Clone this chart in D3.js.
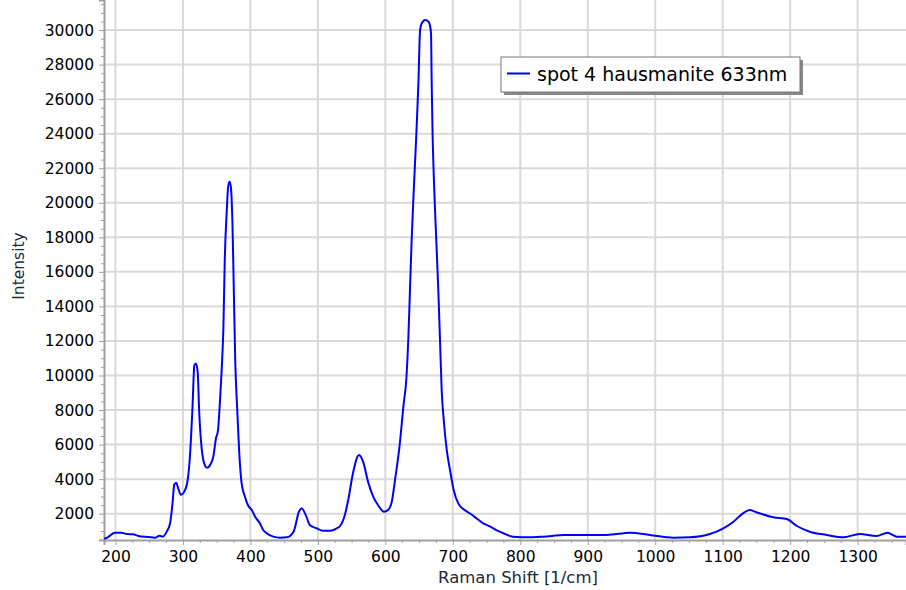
<!DOCTYPE html>
<html>
<head>
<meta charset="utf-8">
<script src="https://cdn.jsdelivr.net/npm/d3@7"></script>
<style>
  body { margin: 0; background: #fff; }
  svg { display: block; font-family: "DejaVu Sans", Verdana, sans-serif; }
</style>
</head>
<body>
<div id="chart"></div>
<script>
// spectrum
var ramanShift = [183, 186, 199, 209, 217, 226, 234, 249, 259, 265, 270, 276, 281, 285, 287, 290, 293, 297, 301, 306,
  310, 314, 317, 319.5, 322, 324, 328, 333, 336, 341, 345, 349, 352, 355, 357.5, 360, 362, 365, 367, 369,
  371, 373.5, 375.5, 377.5, 380.5, 383.5, 387, 392, 397, 402, 407, 414, 419, 424, 434, 444, 454, 464, 472, 476,
  483, 488, 498, 508, 518, 528, 533, 540, 545, 552, 561, 567, 575, 582, 589, 598, 604, 609, 615, 621,
  627, 631, 634, 636.5, 639, 641.5, 646, 649, 651.5, 654, 659, 664, 666, 667.7, 668.7, 670, 672, 675, 678.5,
  681, 683.5, 687, 691, 696, 701, 708, 718, 725, 735, 745, 755, 767, 775, 789, 814, 834, 866, 928, 963,
  992, 1027, 1051, 1081, 1101, 1116, 1130, 1140, 1150, 1175, 1195, 1210, 1229, 1254, 1279, 1303, 1328, 1344, 1358, 1372];
var intensity = [560, 576, 900, 900, 825, 807, 710, 650, 610, 727, 670, 960, 1444, 2793, 3660, 3795, 3470, 3100, 3216, 3720,
  5109, 8000, 10600, 10700, 10130, 8000, 5690, 4760, 4660, 4877, 5300, 6365, 6845, 8580, 10400, 12826, 16690, 19580, 20930, 21220,
  20930, 18615, 14760, 10900, 8000, 5500, 3760, 2985, 2445, 2214, 1826, 1444, 1056, 865, 670, 610, 634, 958, 2116, 2312,
  1826, 1346, 1155, 1016, 1016, 1155, 1288, 1925, 2793, 4340, 5400, 5010, 3760, 2985, 2504, 2116, 2214, 2600, 4142, 5900,
  8300, 9740, 12055, 14950, 17845, 20200, 24020, 26915, 30000, 30390, 30580, 30480, 30290, 29810, 26915, 24020, 21300, 18300, 14950,
  12055, 9160, 7230, 5690, 4500, 3420, 2600, 2200, 2023, 1734, 1444, 1270, 1000, 865, 670, 634, 670, 767, 767, 900,
  767, 610, 634, 825, 1155, 1537, 2023, 2214, 2081, 1790, 1693, 1288, 958, 767, 634, 825, 710, 900, 670, 670];

var seriesName = "spot 4 hausmanite 633nm";
var xTicks = [200, 300, 400, 500, 600, 700, 800, 900, 1000, 1100, 1200, 1300];
var yTicks = [2000, 4000, 6000, 8000, 10000, 12000, 14000, 16000, 18000, 20000, 22000, 24000, 26000, 28000, 30000];

var width = 906, height = 590;
var margin = {top: 0, right: 0, bottom: 50, left: 104};
var plotW = width - margin.left - margin.right;
var plotH = height - margin.top - margin.bottom;

var data = ramanShift.map(function(d, i) { return {x: d, y: intensity[i]}; });

var x = d3.scaleLinear().domain([183, 1371.7]).range([0, plotW]);
var y = d3.scaleLinear().domain([477, 31740]).range([plotH, 0]);

var svg = d3.select("#chart")
  .append("svg")
  .attr("width", width)
  .attr("height", height);

var g = svg.append("g")
  .attr("transform", "translate(" + margin.left + "," + margin.top + ")");

// grid
g.append("g")
  .selectAll("line")
  .data(xTicks)
  .enter()
  .append("line")
  .attr("x1", function(d) { return x(d); })
  .attr("x2", function(d) { return x(d); })
  .attr("y1", 0)
  .attr("y2", plotH)
  .attr("stroke", "#d9d9d9")
  .attr("stroke-width", 2);

g.append("g")
  .selectAll("line")
  .data(yTicks)
  .enter()
  .append("line")
  .attr("x1", 0)
  .attr("x2", plotW)
  .attr("y1", function(d) { return y(d); })
  .attr("y2", function(d) { return y(d); })
  .attr("stroke", "#d9d9d9")
  .attr("stroke-width", 2);

// minor ticks
var xMinor = d3.range(200, 1375, 25).filter(function(d) { return d % 100 != 0; });
var yMinor = d3.range(500, 31740, 500).filter(function(d) { return d % 2000 != 0; });

var xAxis = d3.axisBottom(x).tickValues(xTicks).tickSize(5).tickPadding(6).tickFormat(d3.format("d"));
var yAxis = d3.axisLeft(y).tickValues(yTicks).tickSize(5).tickPadding(5).tickFormat(d3.format("d"));

g.append("g")
  .attr("transform", "translate(0," + plotH + ")")
  .call(d3.axisBottom(x).tickValues(xMinor).tickSize(3).tickFormat(""))
  .call(function(s) { s.select(".domain").remove(); s.selectAll("line").attr("stroke", "#a0a0a0"); });

g.append("g")
  .call(d3.axisLeft(y).tickValues(yMinor).tickSize(3).tickFormat(""))
  .call(function(s) { s.select(".domain").remove(); s.selectAll("line").attr("stroke", "#a0a0a0"); });

var gx = g.append("g")
  .attr("transform", "translate(0," + plotH + ")")
  .call(xAxis);
var gy = g.append("g").call(yAxis);

[gx, gy].forEach(function(a) {
  a.select(".domain").attr("stroke", "#a0a0a0").attr("stroke-width", 2);
  a.selectAll(".tick line").attr("stroke", "#a0a0a0");
  a.selectAll(".tick text")
    .attr("fill", "#000")
    .style("font-size", "15.5px")
    .style("font-family", "DejaVu Sans, Verdana, sans-serif");
});

// the spectrum
svg.append("clipPath")
  .attr("id", "clip")
  .append("rect")
  .attr("width", plotW)
  .attr("height", plotH);

var line = d3.line()
  .x(function(d) { return x(d.x); })
  .y(function(d) { return y(d.y); })
  .curve(d3.curveMonotoneX);

g.append("path")
  .datum(data)
  .attr("clip-path", "url(#clip)")
  .attr("fill", "none")
  .attr("stroke", "#0000ff")
  .attr("stroke-width", 2)
  .attr("d", line);

// axis titles
svg.append("text")
  .attr("x", 518)
  .attr("y", 583)
  .attr("text-anchor", "middle")
  .style("font-size", "16.5px")
  .attr("fill", "#1a2a3a")
  .text("Raman Shift [1/cm]");

svg.append("text")
  .attr("transform", "translate(24,266) rotate(-90)")
  .attr("text-anchor", "middle")
  .style("font-size", "15.5px")
  .attr("fill", "#1a2a3a")
  .text("Intensity");

// legend
var legend = svg.append("g").attr("transform", "translate(501,57)");
legend.append("rect")
  .attr("x", 3).attr("y", 3)
  .attr("width", 299).attr("height", 35)
  .attr("fill", "#888");
legend.append("rect")
  .attr("width", 299).attr("height", 35)
  .attr("fill", "#fff")
  .attr("stroke", "#777")
  .attr("stroke-width", 1);
legend.append("line")
  .attr("x1", 6).attr("x2", 29)
  .attr("y1", 16.5).attr("y2", 16.5)
  .attr("stroke", "#0000ff")
  .attr("stroke-width", 2);
legend.append("text")
  .attr("x", 36).attr("y", 23.5)
  .style("font-size", "19px")
  .attr("fill", "#000")
  .text(seriesName);
</script>
</body>
</html>
